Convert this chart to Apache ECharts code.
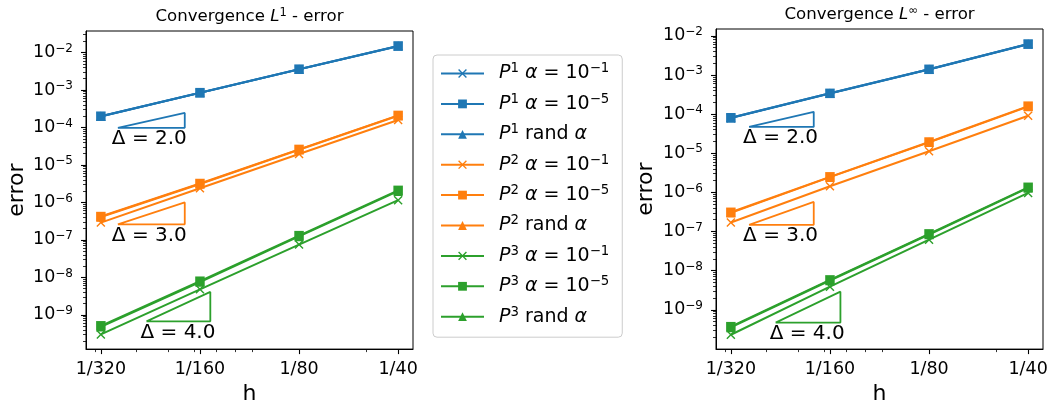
<!DOCTYPE html>
<html><head><meta charset="utf-8">
<script src="https://cdn.jsdelivr.net/npm/echarts@6/dist/echarts.min.js"></script>
<style>html,body{margin:0;padding:0;background:#fff}#c{width:1051px;height:410px}</style>
</head><body><div id="c"></div>
<script>
// ---- data ----
const hValues = [1/320, 1/160, 1/80, 1/40];
const hLabels = ['1/320', '1/160', '1/80', '1/40'];
const yTickValues = [1e-9, 1e-8, 1e-7, 1e-6, 1e-5, 1e-4, 1e-3, 1e-2];
const xMinorTicks = [0.003, 0.004, 0.005, 0.006, 0.007, 0.008, 0.009, 0.02];

// L1 error
const L1_P1_a1   = [1.96e-4, 8.4e-4, 3.55e-3, 1.47e-2];
const L1_P1_a5   = [2.0e-4, 8.5e-4, 3.6e-3, 1.5e-2];
const L1_P1_rand = [2.0e-4, 8.5e-4, 3.6e-3, 1.5e-2];
const L1_P2_a1   = [2.9e-7, 2.4e-6, 1.96e-5, 1.58e-4];
const L1_P2_a5   = [4.2e-7, 3.2e-6, 2.6e-5, 2.1e-4];
const L1_P2_rand = [4.1e-7, 3.1e-6, 2.55e-5, 2.05e-4];
const L1_P3_a1   = [3.0e-10, 4.8e-9, 7.5e-8, 1.15e-6];
const L1_P3_a5   = [5.1e-10, 7.9e-9, 1.3e-7, 2.1e-6];
const L1_P3_rand = [4.8e-10, 7.5e-9, 1.24e-7, 2.0e-6];

// Linf error
const LI_P1_a1   = [7.9e-5, 3.35e-4, 1.38e-3, 6.1e-3];
const LI_P1_a5   = [8.1e-5, 3.4e-4, 1.4e-3, 6.2e-3];
const LI_P1_rand = [8.1e-5, 3.4e-4, 1.4e-3, 6.2e-3];
const LI_P2_a1   = [1.7e-7, 1.44e-6, 1.13e-5, 9.1e-5];
const LI_P2_a5   = [3.1e-7, 2.5e-6, 1.94e-5, 1.6e-4];
const LI_P2_rand = [3.0e-7, 2.45e-6, 1.9e-5, 1.56e-4];
const LI_P3_a1   = [2.3e-10, 3.9e-9, 6.2e-8, 9.7e-7];
const LI_P3_a5   = [3.7e-10, 5.8e-9, 8.7e-8, 1.35e-6];
const LI_P3_rand = [3.55e-10, 5.6e-9, 8.4e-8, 1.3e-6];

// slope triangles: [x0, x1], [y0, y1]
const triL1X = [[0.00352, 0.00562], [0.00352, 0.00562], [0.0043, 0.00672]];
const triL1Y = [[9.8e-5, 2.45e-4], [2.6e-7, 1.0e-6], [6.7e-10, 4.1e-9]];
const triLIX = [[0.00355, 0.00558], [0.00355, 0.00558], [0.004275, 0.006725]];
const triLIY = [[4.7e-5, 1.15e-4], [1.48e-7, 5.7e-7], [4.7e-10, 2.9e-9]];
const triLabels = ['Δ = 2.0', 'Δ = 3.0', 'Δ = 4.0'];

const seriesNames = ['P1 a1', 'P1 a5', 'P1 rand', 'P2 a1', 'P2 a5', 'P2 rand', 'P3 a1', 'P3 a5', 'P3 rand'];
const legendLabels = [
  '{i|P}{s|1}{t| }{i|α}{t| = 10}{s|−1}',
  '{i|P}{s|1}{t| }{i|α}{t| = 10}{s|−5}',
  '{i|P}{s|1}{t| rand }{i|α}',
  '{i|P}{s|2}{t| }{i|α}{t| = 10}{s|−1}',
  '{i|P}{s|2}{t| }{i|α}{t| = 10}{s|−5}',
  '{i|P}{s|2}{t| rand }{i|α}',
  '{i|P}{s|3}{t| }{i|α}{t| = 10}{s|−1}',
  '{i|P}{s|3}{t| }{i|α}{t| = 10}{s|−5}',
  '{i|P}{s|3}{t| rand }{i|α}'
];
const L1Data = [L1_P1_a1, L1_P1_a5, L1_P1_rand, L1_P2_a1, L1_P2_a5, L1_P2_rand, L1_P3_a1, L1_P3_a5, L1_P3_rand];
const LIData = [LI_P1_a1, LI_P1_a5, LI_P1_rand, LI_P2_a1, LI_P2_a5, LI_P2_rand, LI_P3_a1, LI_P3_a5, LI_P3_rand];

// ---- style ----
const colors = ['#1f77b4', '#ff7f0e', '#2ca02c'];
const FONT = 'DejaVu Sans';
const X_SYMBOL = 'path://M0,1.1L1.1,0L5,3.9L8.9,0L10,1.1L6.1,5L10,8.9L8.9,10L5,6.1L1.1,10L0,8.9L3.9,5Z';
const symbols = [X_SYMBOL, 'rect', 'triangle'];
const symbolSizes = [9, 9.5, 9.5];

const yMinorTicks = [];
for (let e = -11; e <= -1; e++) for (let k = 2; k <= 9; k++) yMinorTicks.push(k * Math.pow(10, e));

const tickRich = {
  b: {fontSize: 17.5, fontFamily: FONT, color: '#000', lineHeight: 20},
  s: {fontSize: 12, fontFamily: FONT, color: '#000', lineHeight: 12, verticalAlign: 'top'}
};
const legendRich = {
  t: {fontSize: 19, fontFamily: FONT, color: '#000', lineHeight: 22},
  i: {fontSize: 19, fontFamily: FONT, fontStyle: 'italic', color: '#000', lineHeight: 22},
  s: {fontSize: 13.3, fontFamily: FONT, color: '#000', lineHeight: 13, verticalAlign: 'top'}
};
const titleRich = {
  t: {fontSize: 16.6, fontFamily: FONT, fontWeight: 'normal', color: '#000', lineHeight: 19},
  i: {fontSize: 16.6, fontFamily: FONT, fontStyle: 'italic', fontWeight: 'normal', color: '#000', lineHeight: 19},
  s: {fontSize: 11.5, fontFamily: FONT, fontWeight: 'normal', color: '#000', lineHeight: 11, verticalAlign: 'top'}
};

function xLabel(v) {
  const i = hValues.findIndex(h => Math.abs(h - v) / h < 1e-3);
  return i >= 0 ? hLabels[i] : '';
}
function yLabel(v) {
  return '{b|10}{s|−' + Math.round(-Math.log10(v)) + '}';
}

function makeXAxes(grid, min, max) {
  return [{
    type: 'log', logBase: 2, gridIndex: grid, position: 'bottom', min, max,
    name: 'h', nameLocation: 'middle', nameGap: 31,
    nameTextStyle: {fontSize: 22, fontFamily: FONT, color: '#000'},
    axisLine: {show: true, lineStyle: {color: '#000', width: 1}},
    axisTick: {show: true, length: 5, lineStyle: {color: '#000', width: 1.1}, customValues: hValues},
    axisLabel: {show: true, margin: 11, fontSize: 17.5, fontFamily: FONT, color: '#000', customValues: hValues, formatter: xLabel},
    splitLine: {show: false}, minorTick: {show: false}
  }, {
    type: 'log', logBase: 2, gridIndex: grid, position: 'bottom', min, max,
    axisLine: {show: false},
    axisTick: {show: true, length: 3, lineStyle: {color: '#000', width: 0.8}, customValues: xMinorTicks},
    axisLabel: {show: false},
    splitLine: {show: false}
  }];
}
function makeYAxes(grid, min, max, gap) {
  return [{
    type: 'log', logBase: 10, gridIndex: grid, position: 'left', min, max,
    name: 'error', nameLocation: 'middle', nameGap: gap,
    nameTextStyle: {fontSize: 22, fontFamily: FONT, color: '#000'},
    axisLine: {show: true, lineStyle: {color: '#000', width: 1}},
    axisTick: {show: true, length: 5, lineStyle: {color: '#000', width: 1.1}, customValues: yTickValues},
    axisLabel: {show: true, margin: 13, customValues: yTickValues, formatter: yLabel, rich: tickRich},
    splitLine: {show: false}
  }, {
    type: 'log', logBase: 10, gridIndex: grid, position: 'left', min, max,
    axisLine: {show: false},
    axisTick: {show: true, length: 3, lineStyle: {color: '#000', width: 0.8}, customValues: yMinorTicks},
    axisLabel: {show: false},
    splitLine: {show: false}
  }];
}

const series = [];
function addPanel(dataSets, triX, triY, xi, yi) {
  dataSets.forEach((vals, k) => {
    const c = colors[Math.floor(k / 3)];
    series.push({
      type: 'line', name: seriesNames[k], xAxisIndex: xi, yAxisIndex: yi,
      data: hValues.map((h, i) => [h, vals[i]]),
      symbol: symbols[k % 3], symbolSize: symbolSizes[k % 3], showSymbol: true,
      lineStyle: {color: c, width: 2}, itemStyle: {color: c},
      animation: false, silent: true
    });
  });
  triX.forEach((xs, k) => {
    const ys = triY[k];
    const c = colors[k];
    series.push({
      type: 'line', name: 'tri' + k, xAxisIndex: xi, yAxisIndex: yi,
      data: [[xs[0], ys[0]], [xs[1], ys[0]], [xs[1], ys[1]], [xs[0], ys[0]]],
      symbol: 'none', lineStyle: {color: c, width: 1.8}, animation: false, silent: true
    });
    series.push({
      type: 'scatter', name: 'lab' + k, xAxisIndex: xi, yAxisIndex: yi,
      data: [[xs[0], ys[0]]], symbol: 'circle', symbolSize: 0.01, itemStyle: {color: '#000', opacity: 1},
      label: {show: true, formatter: triLabels[k], position: [-6, 1], align: 'left', verticalAlign: 'top',
        fontSize: 20, fontFamily: FONT, color: '#000', opacity: 1, textBorderWidth: 0},
      animation: false, silent: true
    });
  });
}
addPanel(L1Data, triL1X, triL1Y, 0, 0);
addPanel(LIData, triLIX, triLIY, 2, 2);

const xl = makeXAxes(0, hValues[0] * Math.pow(2, -0.15), hValues[3] * Math.pow(2, 0.15));
const xr = makeXAxes(1, hValues[0] * Math.pow(2, -0.15), hValues[3] * Math.pow(2, 0.15));
const yl = makeYAxes(0, Math.pow(10, -9.914), Math.pow(10, -1.425), 58);
const yr = makeYAxes(1, Math.pow(10, -10.005), Math.pow(10, -1.824), 59);

const chart = echarts.init(document.getElementById('c'), null, {renderer: 'canvas'});
chart.setOption({
  backgroundColor: '#fff',
  animation: false,
  title: [
    {text: '{t|Convergence }{i|L}{s|1}{t| - error}', left: 249.5, top: 7, textAlign: 'center', padding: 0,
      textStyle: {fontWeight: 'normal', rich: titleRich}},
    {text: '{t|Convergence }{i|L}{s|∞}{t| - error}', left: 879.5, top: 5, textAlign: 'center', padding: 0,
      textStyle: {fontWeight: 'normal', rich: titleRich}}
  ],
  grid: [
    {left: 86, top: 31, width: 327, height: 325, show: true, borderColor: '#000', borderWidth: 1, backgroundColor: 'transparent'},
    {left: 716, top: 29, width: 327, height: 326, show: true, borderColor: '#000', borderWidth: 1, backgroundColor: 'transparent'}
  ],
  xAxis: [xl[0], xl[1], xr[0], xr[1]],
  yAxis: [yl[0], yl[1], yr[0], yr[1]],
  legend: {
    orient: 'vertical', left: 433, top: 55, itemWidth: 43, itemHeight: 11, itemGap: 9.9,
    padding: [7.5, 13, 11, 7], borderColor: '#cccccc', borderWidth: 1, borderRadius: 4, backgroundColor: '#fff',
    selectedMode: false, data: seriesNames,
    formatter: n => legendLabels[seriesNames.indexOf(n)],
    textStyle: {padding: [0, 0, 0, 10], rich: legendRich}
  },
  series
});
</script></body></html>
